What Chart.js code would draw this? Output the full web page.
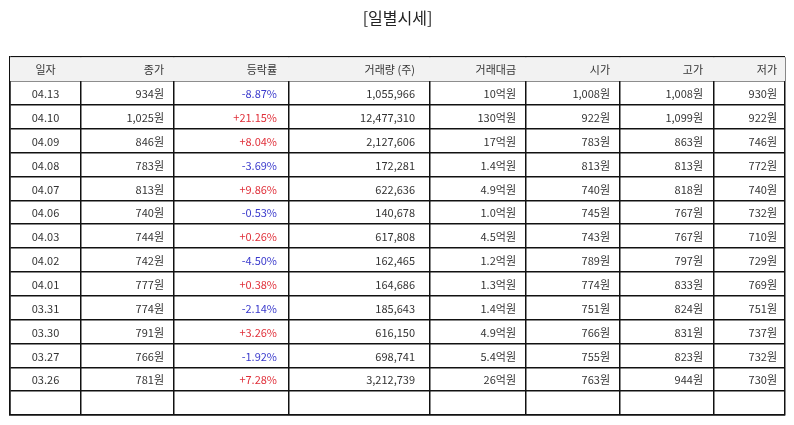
<!DOCTYPE html>
<html>
<head>
<meta charset="utf-8">
<script src="https://cdn.jsdelivr.net/npm/chart.js@4.4.0/dist/chart.umd.min.js"></script>
<style>
  html, body { margin: 0; padding: 0; background: #fff; }
  #wrap { width: 794px; height: 425px; }
</style>
</head>
<body>
<div id="wrap"><canvas id="dailyTable"></canvas></div>
<script>
// 일별시세 데이터
const headers = ['일자', '종가', '등락률', '거래량 (주)', '거래대금', '시가', '고가', '저가'];
const dates = ['04.13','04.10','04.09','04.08','04.07','04.06','04.03','04.02','04.01','03.31','03.30','03.27','03.26'];
const closes = [934,1025,846,783,813,740,744,742,777,774,791,766,781];
const changes = [-8.87,21.15,8.04,-3.69,9.86,-0.53,0.26,-4.50,0.38,-2.14,3.26,-1.92,7.28];
const volumes = [1055966,12477310,2127606,172281,622636,140678,617808,162465,164686,185643,616150,698741,3212739];
const amounts = [10,130,17,1.4,4.9,1.0,4.5,1.2,1.3,1.4,4.9,5.4,26]; // 억원
const opens = [1008,922,783,813,740,745,743,789,774,751,766,755,763];
const highs = [1008,1099,863,813,818,767,767,797,833,824,831,823,944];
const lows = [930,922,746,772,740,732,710,729,769,751,737,732,730];

// column widths (relative units on the x scale)
const colWidths = [71, 93, 115, 141, 96, 94, 94, 71];
const colEdges = [0];
colWidths.forEach(w => colEdges.push(colEdges[colEdges.length - 1] + w));
const colPad = [0, 10, 12, 15, 10, 10, 11, 8];
const totalRows = dates.length + 2; // header + data + empty row

const won = v => v.toLocaleString('en-US') + '원';
const pct = v => (v > 0 ? '+' : '') + v.toFixed(2) + '%';
const eok = v => (v >= 10 ? v.toFixed(0) : v.toFixed(1)) + '억원';

function cellsFor(i) {
  return [
    { t: dates[i] },
    { t: won(closes[i]) },
    { t: pct(changes[i]), c: changes[i] > 0 ? '#e0303a' : '#3a3acc' },
    { t: volumes[i].toLocaleString('en-US') },
    { t: eok(amounts[i]) },
    { t: won(opens[i]) },
    { t: won(highs[i]) },
    { t: won(lows[i]) }
  ];
}

const tablePlugin = {
  id: 'tableText',
  beforeDatasetsDraw(chart) {
    const { ctx, scales: { x, y } } = chart;
    ctx.save();
    ctx.fillStyle = '#f2f2f2';
    const top = y.getPixelForValue(0), bottom = y.getPixelForValue(1);
    ctx.fillRect(x.getPixelForValue(0), top, x.getPixelForValue(colEdges[colEdges.length - 1]) - x.getPixelForValue(0), bottom - top);
    ctx.restore();
  },
  afterDraw(chart) {
    const { ctx, scales: { x, y } } = chart;
    ctx.save();
    ctx.font = '11px "Noto Sans CJK KR", "Noto Sans", sans-serif';
    ctx.textBaseline = 'middle';
    const drawRow = (cells, row) => {
      const cy = y.getPixelForValue(row + 0.5) + 1;
      cells.forEach((cell, c) => {
        ctx.fillStyle = cell.c || '#333';
        if (c === 0) {
          ctx.textAlign = 'center';
          ctx.fillText(cell.t, x.getPixelForValue((colEdges[0] + colEdges[1]) / 2), cy);
        } else {
          ctx.textAlign = 'right';
          ctx.fillText(cell.t, x.getPixelForValue(colEdges[c + 1]) - colPad[c], cy);
        }
      });
    };
    drawRow(headers.map(h => ({ t: h })), 0);
    dates.forEach((d, i) => drawRow(cellsFor(i), i + 1));
    ctx.restore();
  }
};

const config = {
  type: 'scatter',
  data: { datasets: [{ data: [], showLine: false }] },
  options: {
    responsive: true,
    maintainAspectRatio: false,
    animation: false,
    layout: { padding: { left: 10, right: 9, bottom: 10 } },
    plugins: {
      legend: { display: false },
      tooltip: { enabled: false },
      title: {
        display: true,
        text: '[일별시세]',
        color: '#222',
        font: { family: '"Noto Sans CJK KR", sans-serif', size: 16, weight: 'normal' },
        padding: { top: 8, bottom: 30 }
      }
    },
    scales: {
      x: {
        type: 'linear',
        min: 0,
        max: colEdges[colEdges.length - 1],
        afterBuildTicks: s => { s.ticks = colEdges.map(v => ({ value: v })); },
        ticks: { display: false },
        grid: { color: '#111', lineWidth: 1.5, drawTicks: false },
        border: { color: '#111', width: 1.5 }
      },
      y: {
        type: 'linear',
        reverse: true,
        min: 0,
        max: totalRows,
        afterBuildTicks: s => { s.ticks = Array.from({ length: totalRows + 1 }, (_, i) => ({ value: i })); },
        ticks: { display: false },
        grid: { color: '#111', lineWidth: 1.5, drawTicks: false },
        border: { color: '#111', width: 1.5 }
      }
    }
  },
  plugins: [tablePlugin]
};

const dailyTable = new Chart(document.getElementById('dailyTable'), config);
</script>
</body>
</html>
